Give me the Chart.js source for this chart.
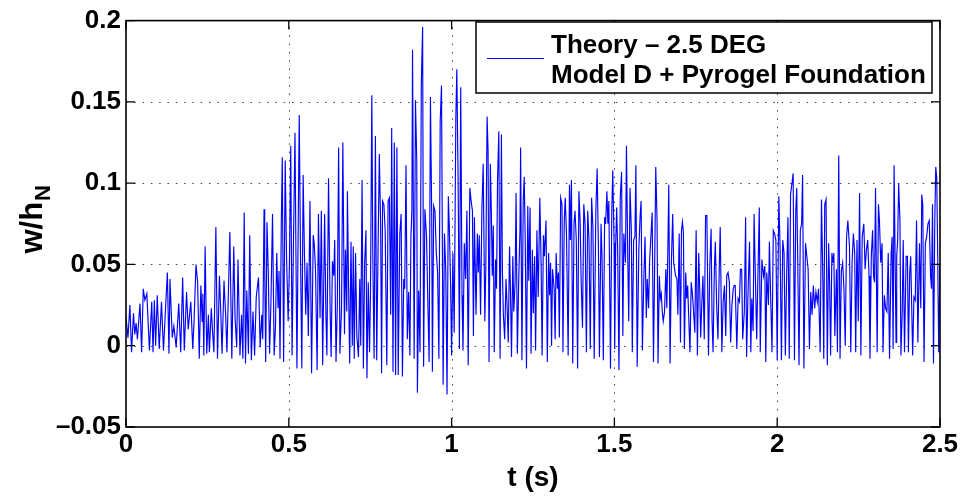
<!DOCTYPE html>
<html><head><meta charset="utf-8">
<script src="https://cdn.jsdelivr.net/npm/chart.js@4"></script>
<style>html,body{margin:0;padding:0;background:#fff}canvas{display:block}</style>
</head><body>
<canvas id="c" width="961" height="500" style="width:961px;height:500px"></canvas>
<script>
// time (s) of each sample
const tSec = [
0.000,0.006,0.012,0.017,0.023,0.027,0.031,0.035,0.043,0.048,0.053,0.058,0.064,0.072,0.079,0.083,0.087,0.091,0.096,0.102,0.109,0.115,0.127,0.132,0.135,0.142,0.147,0.154,0.162,0.168,0.174,0.179,0.186,0.191,0.199,0.205,0.209,
0.215,0.220,0.225,0.230,0.234,0.236,0.239,0.243,0.248,0.253,0.256,0.262,0.266,0.270,0.276,0.281,0.287,0.291,0.295,0.301,0.306,0.310,0.319,0.325,0.331,0.335,0.340,0.344,0.350,0.355,0.359,0.363,0.367,0.371,0.376,0.380,0.385,0.390,0.395,0.400,0.404,0.407,0.412,0.417,0.420,0.424,
0.426,0.429,0.433,0.437,0.441,0.445,0.450,0.455,0.459,0.463,0.467,0.470,0.473,0.477,0.480,0.484,0.489,0.493,0.498,0.502,0.506,0.510,0.514,0.519,0.522,0.525,0.532,0.536,0.540,0.544,0.548,0.552,0.556,0.560,0.565,0.570,0.575,0.578,0.582,0.587,0.591,0.596,0.600,0.604,0.610,0.614,0.617,0.622,0.627,0.630,0.634,0.638,0.641,
0.645,0.649,0.653,0.657,0.662,0.666,0.671,0.674,0.678,0.680,0.684,0.687,0.691,0.695,0.698,0.701,0.705,0.709,0.714,0.718,0.721,0.725,0.729,0.733,0.737,0.740,0.744,0.748,0.751,0.755,0.758,0.762,0.766,0.770,0.774,0.778,0.782,0.785,0.788,0.792,0.796,0.801,0.805,0.809,0.813,0.816,0.820,0.824,0.828,0.832,0.836,0.841,0.845,0.849,0.853,0.856,
0.860,0.864,0.868,0.872,0.875,0.878,0.880,0.885,0.889,0.893,0.895,0.899,0.903,0.907,0.911,0.914,0.918,0.923,0.927,0.931,0.935,0.939,0.941,0.945,0.949,0.953,0.957,0.961,0.965,0.969,0.974,0.978,0.982,0.986,0.990,0.993,0.997,1.000,1.004,1.008,1.013,1.016,1.020,1.024,1.028,1.032,1.035,1.039,1.043,1.047,1.051,1.056,1.060,1.064,1.067,1.070,
1.072,1.075,1.079,1.082,1.085,1.089,1.093,1.097,1.102,1.105,1.109,1.112,1.115,1.119,1.122,1.125,1.128,1.131,1.135,1.138,1.141,1.145,1.149,1.153,1.156,1.159,1.163,1.167,1.170,1.174,1.178,1.181,1.184,1.188,1.191,1.195,1.198,1.202,1.206,1.210,1.212,1.216,1.220,1.223,1.226,1.230,1.234,1.237,1.241,1.244,1.248,1.251,1.255,1.258,1.262,1.266,1.271,1.275,1.278,1.282,1.285,
1.290,1.294,1.298,1.301,1.304,1.307,1.310,1.315,1.318,1.321,1.325,1.328,1.331,1.335,1.339,1.342,1.346,1.349,1.353,1.358,1.362,1.365,1.368,1.372,1.376,1.379,1.383,1.387,1.391,1.395,1.398,1.402,1.406,1.410,1.414,1.418,1.422,1.426,1.430,1.434,1.438,1.443,1.447,1.451,1.454,1.459,1.462,1.466,1.470,1.473,1.477,1.480,1.483,1.488,1.492,1.495,1.499,1.501,
1.504,1.507,1.510,1.514,1.518,1.522,1.526,1.529,1.534,1.537,1.541,1.544,1.548,1.552,1.555,1.559,1.563,1.566,1.570,1.575,1.579,1.582,1.586,1.590,1.594,1.598,1.601,1.605,1.608,1.611,1.616,1.620,1.624,1.627,1.631,1.634,1.638,1.641,1.644,1.647,1.650,1.654,1.658,1.661,1.664,1.667,1.671,1.675,1.679,1.682,1.685,1.688,1.692,1.695,1.699,1.703,1.706,1.709,1.712,1.715,
1.719,1.722,1.725,1.728,1.732,1.736,1.739,1.742,1.747,1.751,1.755,1.759,1.762,1.765,1.769,1.772,1.776,1.780,1.784,1.789,1.793,1.797,1.800,1.803,1.807,1.810,1.814,1.818,1.822,1.825,1.830,1.834,1.838,1.842,1.845,1.849,1.853,1.857,1.861,1.865,1.868,1.871,1.876,1.880,1.884,1.887,1.891,1.894,1.899,1.903,1.906,1.910,1.915,1.919,1.922,1.926,1.929,
1.937,1.942,1.945,1.948,1.953,1.958,1.962,1.965,1.968,1.973,1.976,1.980,1.984,1.988,1.992,1.996,2.000,2.005,2.009,2.013,2.017,2.021,2.025,2.029,2.033,2.037,2.041,2.046,2.049,2.053,2.057,2.060,2.063,2.067,2.071,2.075,2.078,2.082,2.087,2.091,2.095,2.099,2.103,2.107,2.111,2.115,2.119,2.123,2.127,2.132,2.136,2.140,2.143,2.146,
2.150,2.154,2.158,2.161,2.164,2.168,2.171,2.174,2.177,2.182,2.185,2.189,2.193,2.197,2.201,2.205,2.209,2.213,2.217,2.222,2.226,2.230,2.234,2.238,2.241,2.245,2.249,2.253,2.257,2.261,2.266,2.270,2.274,2.278,2.282,2.285,2.289,2.293,2.296,2.299,2.302,2.307,2.311,2.314,2.318,2.322,2.325,2.329,2.333,2.337,2.341,2.345,2.350,2.353,2.356,2.359,
2.365,2.367,2.370,2.373,2.377,2.380,2.384,2.387,2.391,2.396,2.400,2.403,2.407,2.410,2.413,2.416,2.420,2.424,2.428,2.432,2.437,2.441,2.444,2.447,2.451,2.455,2.459,2.463,2.467,2.471,2.474,2.477,2.480,2.484,2.487,2.490,2.493,2.496,2.500
];
// w/h_N at each of those times
const wOverH = [
0.018,0.005,0.025,-0.004,0.020,0.007,0.014,0.004,0.026,-0.004,0.035,0.028,0.032,-0.003,0.027,-0.004,0.028,0.000,0.031,-0.002,0.027,-0.003,0.045,-0.005,0.041,0.005,0.012,-0.001,0.026,-0.004,0.042,-0.003,0.033,0.010,0.027,-0.002,0.015,
0.050,0.039,-0.008,0.037,0.015,0.032,-0.006,0.061,-0.005,0.019,-0.004,0.023,0.008,-0.004,0.073,-0.008,0.043,0.021,-0.005,0.040,0.019,-0.004,0.070,-0.008,0.061,0.017,-0.001,0.053,-0.006,0.019,-0.008,0.082,-0.011,0.034,-0.005,0.068,-0.009,0.021,-0.006,0.030,0.037,0.042,-0.001,0.019,0.004,0.084,
0.049,-0.010,0.076,0.045,-0.005,0.025,0.081,-0.006,0.011,0.057,0.023,0.046,-0.008,0.075,0.116,-0.010,0.114,0.055,0.015,0.051,0.123,-0.006,0.059,0.131,0.055,-0.014,0.142,0.055,-0.014,0.105,0.057,0.019,0.051,0.006,0.089,-0.017,0.068,0.063,0.047,-0.015,0.081,0.017,0.083,-0.012,0.081,0.019,-0.006,0.103,0.021,-0.007,0.052,0.043,0.065,
-0.010,0.025,0.122,-0.005,0.023,0.125,0.007,0.059,0.021,0.095,0.030,-0.011,0.064,0.000,0.061,-0.008,0.057,0.006,-0.007,0.041,0.000,0.102,-0.014,0.051,0.071,-0.020,0.039,-0.004,0.035,0.154,0.055,-0.008,0.129,-0.009,0.057,0.118,0.075,-0.017,0.089,0.087,0.071,-0.012,0.089,0.091,0.019,0.134,-0.016,0.125,-0.018,0.122,-0.018,0.069,0.081,-0.019,0.041,0.035,
0.111,0.004,0.033,-0.006,0.067,0.083,0.182,-0.008,0.151,0.114,-0.029,0.034,-0.004,0.161,0.196,-0.013,0.084,0.067,0.027,-0.010,0.153,0.079,-0.016,0.086,0.083,0.057,0.045,-0.008,0.138,0.160,-0.024,0.069,0.047,-0.030,0.092,0.073,0.037,-0.006,0.057,0.008,0.140,0.170,0.102,-0.002,0.159,0.031,-0.003,0.063,0.041,0.083,-0.012,0.097,0.089,0.083,0.006,0.079,
0.055,0.019,0.069,0.045,0.068,0.019,0.083,0.112,0.015,0.047,0.141,0.120,-0.010,0.112,0.083,0.043,0.074,-0.004,0.053,0.035,0.101,0.132,-0.008,0.130,0.047,0.019,0.004,0.041,0.027,0.002,0.061,0.031,-0.007,0.055,0.021,0.039,0.094,-0.005,0.039,0.071,0.122,-0.009,0.089,0.104,0.067,-0.014,0.086,0.040,0.085,-0.005,0.059,0.020,0.055,-0.003,0.071,0.030,0.091,0.049,-0.006,0.068,0.055,
0.077,-0.010,0.057,0.031,0.051,0.000,0.047,0.035,0.004,0.057,0.035,0.045,0.005,0.091,0.087,-0.004,0.077,0.091,0.067,-0.006,0.099,0.065,0.102,-0.011,0.075,0.083,0.065,-0.014,0.095,0.075,0.039,0.011,0.087,0.075,-0.004,0.083,0.065,-0.002,0.091,0.073,-0.008,0.083,0.109,0.059,-0.007,0.075,0.055,-0.009,0.079,0.075,0.095,0.075,0.089,-0.014,0.083,0.108,0.063,-0.002,
0.063,0.085,0.059,-0.015,0.091,0.107,0.006,0.069,0.051,0.123,0.055,0.015,0.097,0.071,-0.004,0.065,0.067,0.111,-0.013,0.059,0.080,0.089,-0.003,0.039,0.067,0.017,0.041,0.023,0.051,0.063,0.082,-0.010,0.055,0.110,0.077,-0.011,0.043,0.029,0.032,0.021,0.015,0.021,0.047,0.023,0.057,0.099,-0.011,0.051,0.081,0.051,0.047,0.043,0.041,0.019,0.069,0.002,0.071,0.076,0.069,-0.002,
0.045,0.029,0.037,0.019,-0.004,0.039,0.033,0.025,0.008,0.071,-0.006,0.057,0.035,0.005,0.029,0.043,0.004,0.080,0.080,-0.006,0.049,0.072,0.015,-0.004,0.047,0.064,0.025,0.004,0.047,0.073,-0.004,0.027,0.037,0.006,0.043,0.045,0.039,0.002,0.025,0.035,0.037,0.037,-0.002,0.029,0.027,0.047,0.047,0.004,0.021,0.079,-0.007,0.030,0.064,-0.004,0.029,0.009,0.081,
0.004,0.055,0.085,-0.004,0.053,0.043,0.049,-0.010,0.045,0.025,0.064,0.029,-0.004,0.071,0.069,0.065,-0.009,0.092,0.059,-0.009,0.065,0.057,-0.006,0.043,0.079,-0.008,0.093,0.101,0.106,-0.009,0.083,0.097,0.053,-0.012,0.071,0.075,0.105,-0.014,0.063,0.055,0.047,-0.002,0.033,0.019,0.037,0.023,0.033,0.027,0.035,-0.004,0.090,0.043,-0.008,0.087,
0.090,-0.012,0.063,0.039,-0.006,0.057,0.051,0.057,0.006,0.047,-0.004,0.117,-0.008,0.046,0.051,0.035,0.000,0.067,0.077,0.061,-0.004,0.051,0.069,0.057,-0.004,0.065,0.015,0.094,-0.006,0.067,0.075,0.047,0.059,0.065,0.043,-0.008,0.055,0.071,0.043,0.039,0.097,-0.004,0.087,0.077,0.051,0.063,-0.004,0.031,0.023,0.021,0.057,-0.008,0.057,0.067,-0.002,0.111,
0.002,0.055,0.065,0.100,0.077,-0.006,0.021,0.065,-0.004,0.055,0.055,-0.004,0.045,0.055,0.025,-0.006,0.030,0.028,0.077,0.002,0.063,0.023,0.093,0.087,-0.010,0.063,0.067,0.075,0.077,0.043,0.035,0.087,-0.011,0.077,0.110,0.103,0.055,-0.004,0.050
];
const xTicks = [0, 0.5, 1, 1.5, 2, 2.5];
const yTicks = [-0.05, 0, 0.05, 0.1, 0.15, 0.2];
const legendLines = ['Theory \u2013 2.5 DEG', 'Model D + Pyrogel Foundation'];
const xTitle = 't (s)';
const yTitleMain = 'w/h';
const yTitleSub = 'N';

const FONT = '"Liberation Sans", Arial, Helvetica, sans-serif';
Chart.defaults.font.family = FONT;

function fmt(v) {
  const r = Math.round(v * 1000) / 1000;
  return r < 0 ? '\u2013' + String(-r) : String(r);
}

const n = Math.min(tSec.length, wOverH.length);
const points = [];
for (let i = 0; i < n; i++) points.push({ x: tSec[i], y: wOverH[i] });

const framePlugin = {
  id: 'matlabFrame',
  beforeDatasetsDraw(chart) {
    const { ctx, chartArea: a, scales: { x, y } } = chart;
    ctx.save();
    ctx.strokeStyle = '#444';
    ctx.lineWidth = 1;
    ctx.setLineDash([1.5, 6.8]);
    xTicks.forEach((v, i) => {
      if (i === 0 || i === xTicks.length - 1) return;
      const px = Math.round(x.getPixelForValue(v)) + 0.5;
      ctx.beginPath(); ctx.moveTo(px, a.bottom); ctx.lineTo(px, a.top); ctx.stroke();
    });
    yTicks.forEach((v, i) => {
      if (i === 0 || i === yTicks.length - 1) return;
      const py = Math.round(y.getPixelForValue(v)) + 0.5;
      ctx.beginPath(); ctx.moveTo(a.left, py); ctx.lineTo(a.right, py); ctx.stroke();
    });
    ctx.restore();
  },
  afterDatasetsDraw(chart) {
    const { ctx, chartArea: a, scales: { x, y } } = chart;
    ctx.save();
    ctx.setLineDash([]);
    ctx.strokeStyle = '#000';
    ctx.lineWidth = 1.6;
    ctx.strokeRect(a.left, a.top, a.right - a.left, a.bottom - a.top);
    const tl = 9;
    ctx.lineWidth = 1.3;
    xTicks.forEach(v => {
      const px = x.getPixelForValue(v);
      ctx.beginPath();
      ctx.moveTo(px, a.bottom); ctx.lineTo(px, a.bottom - tl);
      ctx.moveTo(px, a.top); ctx.lineTo(px, a.top + tl);
      ctx.stroke();
    });
    yTicks.forEach(v => {
      const py = y.getPixelForValue(v);
      ctx.beginPath();
      ctx.moveTo(a.left, py); ctx.lineTo(a.left + tl, py);
      ctx.moveTo(a.right, py); ctx.lineTo(a.right - tl, py);
      ctx.stroke();
    });

    // legend box
    const lx = 476, ly = 22, lw = 456, lh = 71;
    ctx.fillStyle = '#fff';
    ctx.fillRect(lx, ly, lw, lh);
    ctx.lineWidth = 1.5;
    ctx.strokeStyle = '#000';
    ctx.strokeRect(lx, ly, lw, lh);
    ctx.strokeStyle = '#0000ff';
    ctx.lineWidth = 1;
    ctx.beginPath(); ctx.moveTo(487, 58.5); ctx.lineTo(544, 58.5); ctx.stroke();
    ctx.fillStyle = '#000';
    ctx.font = 'bold 26px ' + FONT;
    ctx.textBaseline = 'alphabetic';
    ctx.textAlign = 'left';
    ctx.fillText(legendLines[0], 551, 53);
    ctx.fillText(legendLines[1], 551, 83);

    // y-axis title with subscript
    ctx.translate(42, (a.top + a.bottom) / 2 - 4);
    ctx.rotate(-Math.PI / 2);
    ctx.font = 'bold 31px ' + FONT;
    const w1 = ctx.measureText(yTitleMain).width;
    ctx.font = 'bold 22px ' + FONT;
    const w2 = ctx.measureText(yTitleSub).width;
    const start = -(w1 + w2) / 2;
    ctx.font = 'bold 31px ' + FONT;
    ctx.fillText(yTitleMain, start, 0);
    ctx.font = 'bold 22px ' + FONT;
    ctx.fillText(yTitleSub, start + w1 + 1, 8);
    ctx.restore();
  }
};

new Chart(document.getElementById('c'), {
  type: 'line',
  data: {
    datasets: [{
      data: points,
      borderColor: '#0000ff',
      borderWidth: 1.15,
      pointRadius: 0,
      tension: 0,
      fill: false
    }]
  },
  options: {
    responsive: false,
    animation: false,
    devicePixelRatio: 1,
    layout: { padding: { top: 14, right: 21, left: 0, bottom: 0 } },
    plugins: { legend: { display: false }, tooltip: { enabled: false } },
    scales: {
      x: {
        type: 'linear', min: 0, max: 2.5,
        afterBuildTicks: s => { s.ticks = xTicks.map(v => ({ value: v })); },
        afterFit: s => { s.height = 73; },
        grid: { display: false, drawTicks: false },
        border: { display: false },
        ticks: { color: '#000', padding: 2, maxRotation: 0, autoSkip: false,
                 font: { size: 26, weight: 'bold' }, callback: v => fmt(v) },
        title: { display: true, text: xTitle, color: '#000',
                 font: { size: 28, weight: 'bold' }, padding: { top: 0, bottom: 5 } }
      },
      y: {
        type: 'linear', min: -0.05, max: 0.2,
        afterBuildTicks: s => { s.ticks = yTicks.map(v => ({ value: v })); },
        afterFit: s => { s.width = 126; },
        grid: { display: false, drawTicks: false },
        border: { display: false },
        ticks: { color: '#000', padding: 5, autoSkip: false,
                 font: { size: 26, weight: 'bold' }, callback: v => fmt(v) }
      }
    }
  },
  plugins: [framePlugin]
});
</script>
</body></html>
